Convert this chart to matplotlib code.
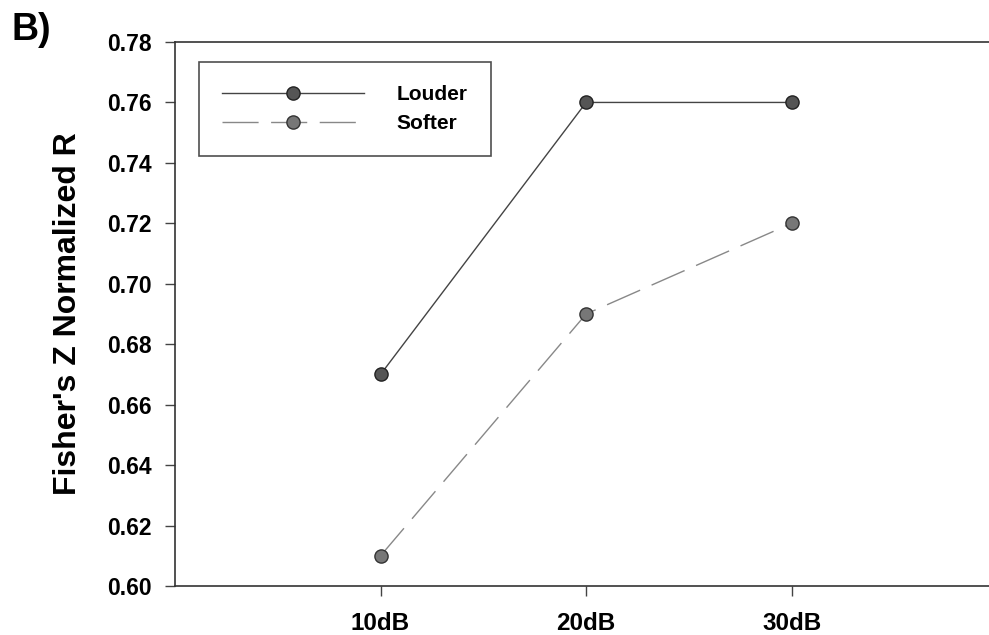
import numpy as np
import matplotlib.pyplot as plt

plt.rcParams['font.family'] = ['Liberation Sans', 'DejaVu Sans']
plt.rcParams['font.weight'] = 'bold'

levels = ['10dB', '20dB', '30dB']
louder = [0.67, 0.76, 0.76]
softer = [0.61, 0.69, 0.72]
yticks = [0.60, 0.62, 0.64, 0.66, 0.68, 0.70, 0.72, 0.74, 0.76, 0.78]

fig = plt.figure(figsize=(9.89, 6.35), dpi=100)
ax = fig.add_axes([175 / 989, 1 - 586 / 635, 814 / 989, 544 / 635])

x = np.arange(1, len(levels) + 1)
ax.plot(x, louder, '-', color='#444444', lw=1.0, marker='o', ms=9.5,
        mfc='#555555', mec='#222222', mew=1.0, label='Louder')
ax.plot(x, softer, color='#888888', lw=1.0, dashes=(26, 9), marker='o', ms=9.5,
        mfc='#777777', mec='#333333', mew=1.0, label='Softer')

ax.set_xlim(0, 3.96)
ax.set_ylim(0.60, 0.78)
ax.set_xticks(x)
ax.set_xticklabels(levels, fontsize=17.5, fontweight='bold')
ax.set_yticks(yticks)
ax.set_yticklabels(['%.2f' % v for v in yticks], fontsize=16.5, fontweight='bold')
ax.tick_params(axis='both', direction='out', length=7, width=1, color='#444444')
ax.tick_params(axis='x', pad=12)
ax.tick_params(axis='y', pad=10)

ax.spines['right'].set_visible(False)
for s in ['left', 'top', 'bottom']:
    ax.spines[s].set_color('#333333')
    ax.spines[s].set_linewidth(1.2)

ax.set_ylabel("Fisher's Z Normalized R", fontsize=23, fontweight='bold')
ax.yaxis.set_label_coords(-(175 - 83) / 814, 0.5)

leg = ax.legend(loc='upper left', bbox_to_anchor=(24 / 814, 1 - 20 / 544),
                frameon=True, fancybox=False, fontsize=15, handlelength=6.8,
                handletextpad=1.6, borderpad=1.1, labelspacing=0.5,
                borderaxespad=0)
leg.get_frame().set_edgecolor('#222222')
leg.get_frame().set_linewidth(1.2)
for t in leg.get_texts():
    t.set_fontweight('bold')

fig.text(12 / 989, 1 - 40 / 635, 'B)', fontsize=27, fontweight='bold')

fig.savefig('out.png', dpi=100)
